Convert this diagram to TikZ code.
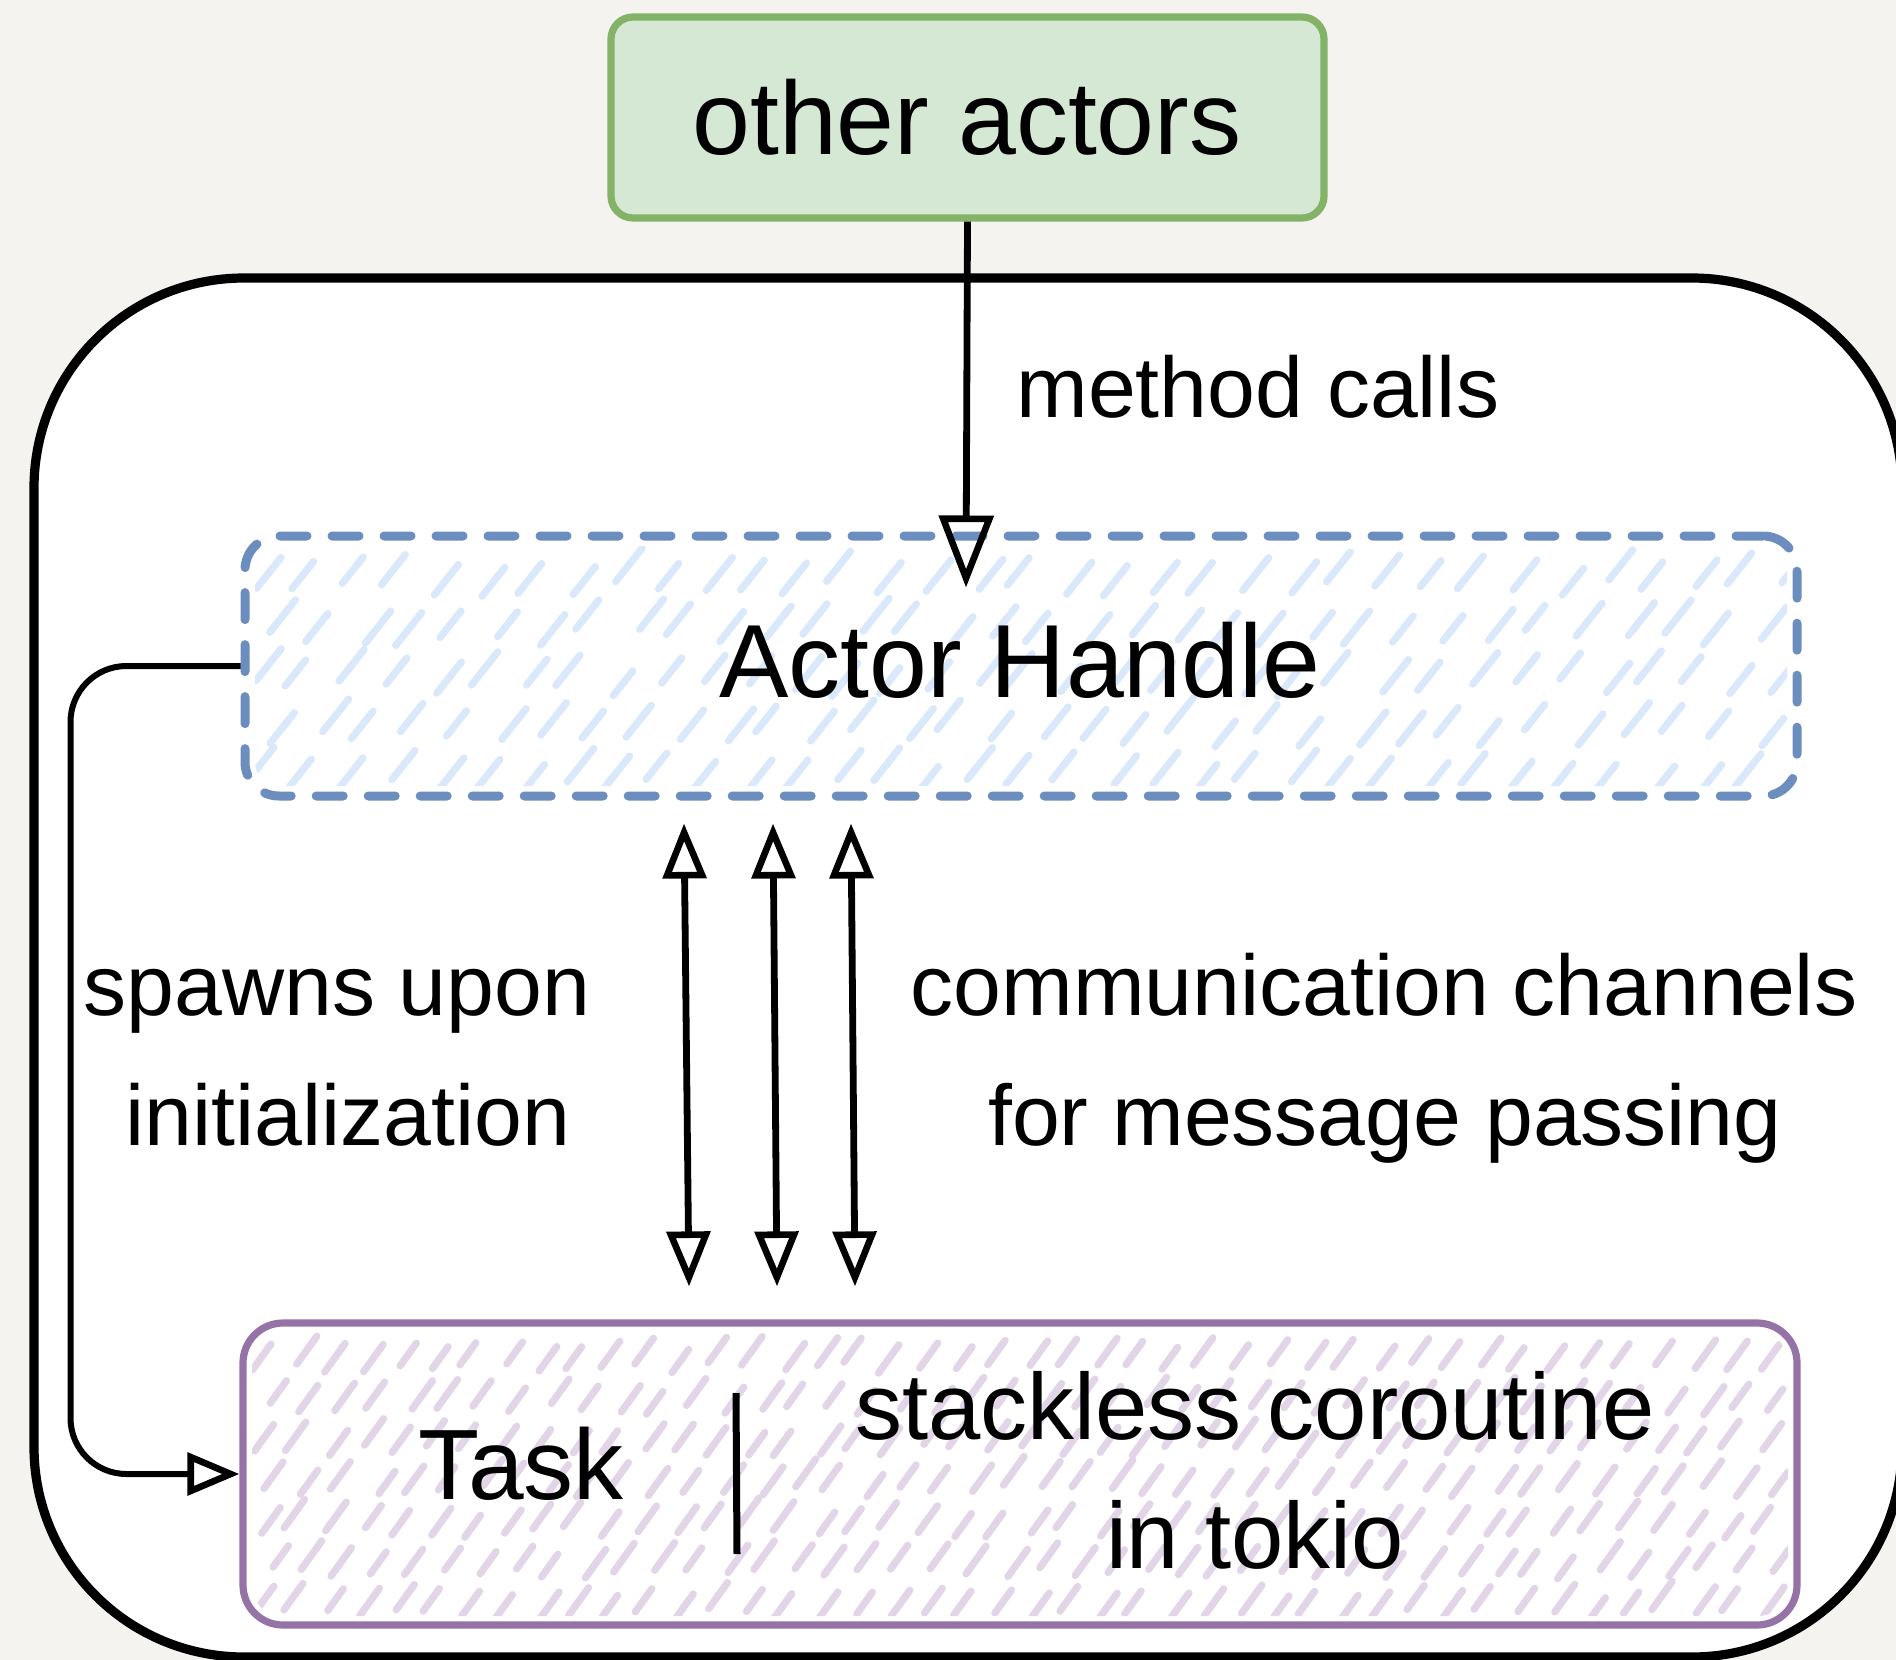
\documentclass[tikz,border=0pt]{standalone}
\usepackage{fontspec}
\setmainfont{Liberation Sans}
\usetikzlibrary{arrows.meta,calc}

\definecolor{paper}{RGB}{244,243,239}
\definecolor{greenfill}{HTML}{D5E8D4}
\definecolor{greenline}{HTML}{82B366}
\definecolor{blueline}{HTML}{6C8EBF}
\definecolor{bluehatch}{HTML}{DAE8FC}
\definecolor{purpleline}{HTML}{9673A6}
\definecolor{purplehatch}{HTML}{E1D5E7}

\tikzset{
  txt/.style={inner sep=0pt, font=\fontsize{43pt}{52pt}\selectfont},
  bigtxt/.style={inner sep=0pt, font=\fontsize{52pt}{60pt}\selectfont},
  midtxt/.style={inner sep=0pt, font=\fontsize{47pt}{56pt}\selectfont},
  hatchstroke/.style={line width=3.6pt, line cap=round},
  chanhead/.tip={Triangle[open, length=27.5pt, width=21.5pt, line width=3.3pt]},
  callhead/.tip={Triangle[open, length=36pt, width=27pt, line width=3.3pt]},
  spawnhead/.tip={Triangle[open, length=26pt, width=21pt, line width=3.3pt]},
  conn/.style={line width=3.4pt, black},
  spawnline/.style={line width=3pt, black, rounded corners=28pt},
  greenbox/.style={draw=greenline, fill=greenfill, line width=3.6pt, rounded corners=11pt, inner sep=0pt},
  handlebox/.style={draw=blueline, line width=4.5pt, rounded corners=17pt, inner sep=0pt,
    line cap=round, dash pattern=on 13.5pt off 12.5pt},
  taskbox/.style={draw=purpleline, line width=3.6pt, rounded corners=20pt, inner sep=0pt},
}

\begin{document}
\begin{tikzpicture}[x=0.5pt, y=-0.5pt]
  % page and its background
  \fill[paper] (0,0) rectangle (1896,1660);
  \useasboundingbox (0,0) rectangle (1896,1660);

  % the actor container
  \draw[line width=4.6pt, fill=white, rounded corners=105pt] (34,278) rectangle (1902,1657);

  % hand-drawn hatching of the actor handle
  \pgfmathsetseed{11}
  \begin{scope}
    \clip[rounded corners=12pt] (255,546) rectangle (1787,786);
    \foreach \row in {0,...,5} {
      \foreach \col in {0,...,35} {
        \pgfmathsetmacro\hx{250+\col*45+mod(\row,2)*20+rand*10}
        \pgfmathsetmacro\hy{588+\row*50+rand*9}
        \pgfmathsetmacro\hl{1+rand*0.15}
        \draw[hatchstroke, bluehatch] (\hx,\hy) -- ++(23*\hl,-29*\hl);
      }
    }
  \end{scope}

  % hand-drawn hatching of the task
  \begin{scope}
    \clip[rounded corners=15pt] (252,1332) rectangle (1788,1616);
    \foreach \row in {0,...,7} {
      \foreach \col in {0,...,45} {
        \pgfmathsetmacro\hx{255+\col*35+mod(\row,2)*12+rand*7}
        \pgfmathsetmacro\hy{1368+\row*41+rand*6}
        \pgfmathsetmacro\hl{1+rand*0.15}
        \draw[hatchstroke, purplehatch] (\hx,\hy) -- ++(18*\hl,-25*\hl);
      }
    }
  \end{scope}

  % boxes
  \node[greenbox, minimum width=356.5pt, minimum height=100.5pt] (others) at (967.5,117.5) {};
  \node[bigtxt, anchor=base] (otherstxt) at (967,154) {other actors};

  \node[handlebox, minimum width=776pt, minimum height=130pt] (handle) at (1021,666) {};
  \node[bigtxt, anchor=base] (handletxt) at (1020,697) {Actor Handle};

  \node[taskbox, minimum width=777pt, minimum height=151pt] (task) at (1020,1474) {};
  \node[inner sep=0pt, font=\fontsize{50pt}{58pt}\selectfont, anchor=base] (tasktxt) at (521,1499) {Task};
  \draw[line width=3.5pt] (736,1393) -- (737,1554);
  \node[midtxt, anchor=base] (coro1) at (1255,1439) {stackless coroutine};
  \node[midtxt, anchor=base] (coro2) at (1255,1568) {in tokio};

  % labels
  \node[txt, anchor=base west] (calls) at (1016,417) {method calls};
  \node[txt, anchor=base] (spawn1) at (337,1015) {spawns upon};
  \node[txt, anchor=base] (spawn2) at (348,1145) {initialization};
  \node[txt, anchor=base] (chan1) at (1384,1015) {communication channels};
  \node[txt, anchor=base] (chan2) at (1385,1145) {for message passing};

  % connectors
  \draw[conn, -callhead] (others.south) -- ($(handle.north)+(-55,56)$);

  \draw[conn, chanhead-chanhead] ($(handle.south)+(-337,23)$) -- ($(task.north)+(-331,-33)$);
  \draw[conn, chanhead-chanhead] ($(handle.south)+(-248,23)$) -- ($(task.north)+(-243,-33)$);
  \draw[conn, chanhead-chanhead] ($(handle.south)+(-170,23)$) -- ($(task.north)+(-165,-33)$);

  \draw[spawnline, -spawnhead] (handle.west) -- ++(-170,0) |- (task.west);
\end{tikzpicture}
\end{document}
